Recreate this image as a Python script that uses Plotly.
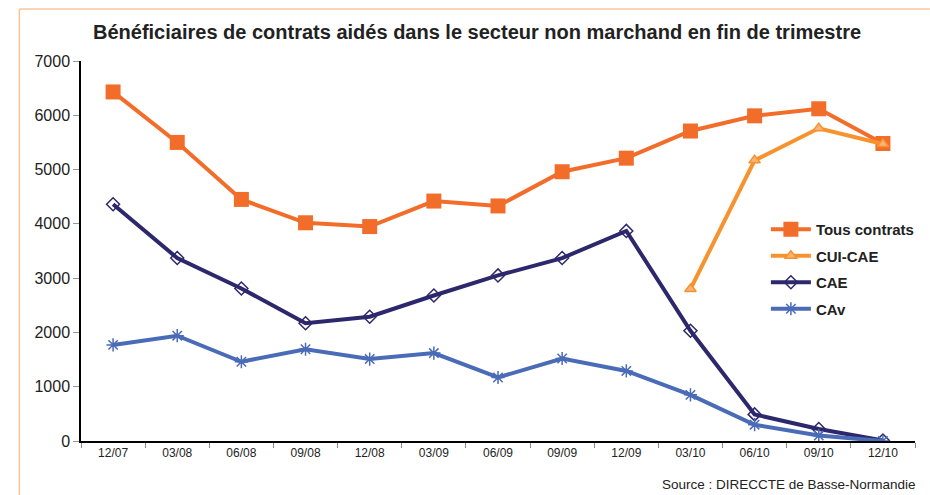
import plotly.graph_objects as go

categories = ["12/07", "03/08", "06/08", "09/08", "12/08", "03/09", "06/09",
              "09/09", "12/09", "03/10", "06/10", "09/10", "12/10"]
tous_contrats = [6430, 5500, 4450, 4020, 3950, 4420, 4330, 4960, 5210, 5710, 5990, 6120, 5480]
cui_cae = [None, None, None, None, None, None, None, None, None, 2800, 5170, 5760, 5470]
cae = [4360, 3370, 2810, 2170, 2290, 2680, 3050, 3370, 3870, 2030, 490, 220, 10]
cav = [1770, 1940, 1460, 1690, 1510, 1620, 1170, 1520, 1290, 850, 300, 100, 0]

W, H = 930, 495
L, R, T, B = 81, 10, 61, 54
pw, ph = W - L - R, H - T - B

def px(x):
    return (x - L) / pw

def py(y):
    return (H - B - y) / ph

fig = go.Figure()
fig.add_trace(go.Scatter(
    x=categories, y=tous_contrats, name="<b>Tous contrats</b>", mode="lines+markers",
    legendgroup="a",
    line=dict(color="#F26D2A", width=4),
    marker=dict(symbol="square", size=15, color="#F26D2A"),
))
fig.add_trace(go.Scatter(
    x=categories, y=cui_cae, name="<b>CUI-CAE</b>", mode="lines+markers",
    legendgroup="b",
    line=dict(color="#F7932E", width=4),
    marker=dict(symbol="triangle-up", size=10, color="#F9B27A",
                line=dict(color="#F7932E", width=1.5)),
))
fig.add_trace(go.Scatter(
    x=categories, y=cae, name="<b>CAE</b>", mode="lines+markers",
    legendgroup="c",
    line=dict(color="#2D286C", width=4),
    marker=dict(symbol="diamond-open", size=10, color="#2D286C",
                line=dict(width=1.5)),
))
fig.add_trace(go.Scatter(
    x=categories, y=cav, name="<b>CAv</b>", mode="lines+markers",
    legendgroup="d",
    line=dict(color="#4A6BB7", width=4),
    marker=dict(symbol="asterisk-open", size=11, color="#4A6BB7",
                line=dict(color="#4A6BB7", width=1.5)),
))

fig.update_layout(
    width=W, height=H,
    margin=dict(l=L, r=R, t=T, b=B),
    paper_bgcolor="white", plot_bgcolor="white",
    font=dict(family="Liberation Sans, Arial, sans-serif", color="#222222"),
    title=dict(text="<b>Bénéficiaires de contrats aidés dans le secteur non marchand en fin de trimestre</b>",
               x=93 / W, xanchor="left", y=1 - 32 / H, yanchor="middle",
               font=dict(size=20, color="#222222")),
    showlegend=True,
    legend=dict(x=px(770), y=py(213), xanchor="left", yanchor="top",
                font=dict(size=15, color="#222222", family="Liberation Sans, Arial, sans-serif"),
                bgcolor="rgba(0,0,0,0)", tracegroupgap=4, itemwidth=40),
    xaxis=dict(type="category", range=[-0.5, 12.5], showgrid=False,
               showline=True, linecolor="black", linewidth=1.5,
               ticks="outside", tickson="boundaries", ticklen=5, tickcolor="#888888",
               tickfont=dict(size=12, color="#222222")),
    yaxis=dict(range=[0, 7000], dtick=1000, showgrid=False, zeroline=False,
               showline=True, linecolor="black", linewidth=1.5,
               ticks="outside", ticklen=6, tickcolor="#999999",
               tickfont=dict(size=16, color="#222222")),
    shapes=[
        dict(type="line", xref="paper", yref="paper",
             x0=px(19), x1=px(W + 5), y0=py(9), y1=py(9),
             line=dict(color="#F8C69A", width=1.5)),
        dict(type="line", xref="paper", yref="paper",
             x0=px(19), x1=px(19), y0=py(9), y1=py(H + 5),
             line=dict(color="#F8C69A", width=1.5)),
    ],
    annotations=[
        dict(text="Source : DIRECCTE de Basse-Normandie", xref="paper", yref="paper",
             x=px(923), y=py(484), xanchor="right", yanchor="middle", showarrow=False,
             font=dict(size=13.5, color="#222222")),
    ],
)

fig.write_html("out.html")
